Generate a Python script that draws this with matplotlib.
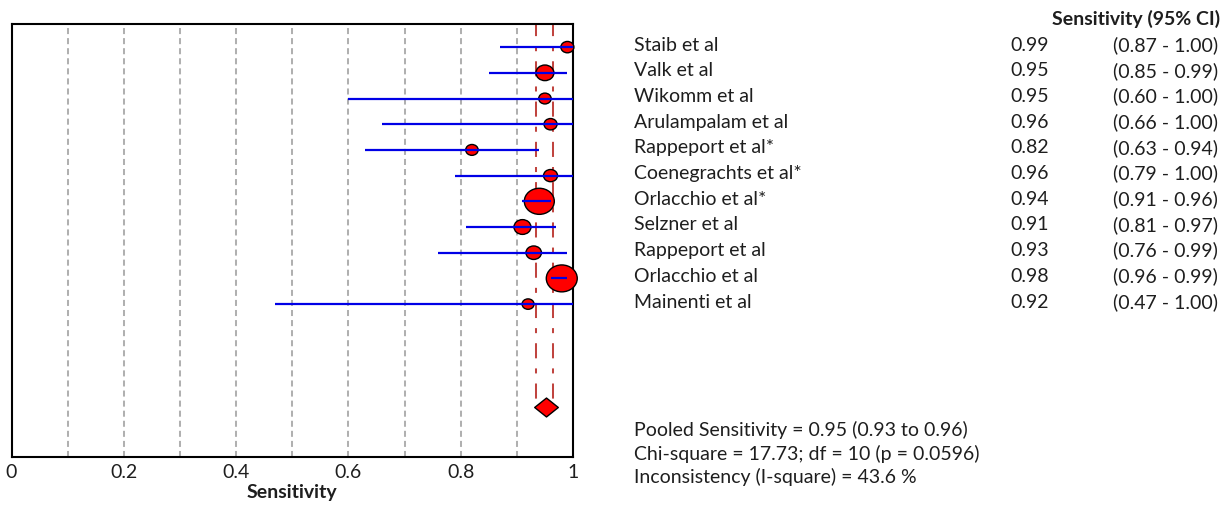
import numpy as np
import matplotlib.pyplot as plt
import matplotlib.transforms as mtransforms
from matplotlib.path import Path

plt.rcParams['font.family'] = ['Lato', 'DejaVu Sans']

# study data
studies = ["Staib et al", "Valk et al", "Wikomm et al", "Arulampalam et al",
           "Rappeport et al*", "Coenegrachts et al*", "Orlacchio et al*",
           "Selzner et al", "Rappeport et al", "Orlacchio et al", "Mainenti et al"]
sens = [0.99, 0.95, 0.95, 0.96, 0.82, 0.96, 0.94, 0.91, 0.93, 0.98, 0.92]
ci_low = [0.87, 0.85, 0.60, 0.66, 0.63, 0.79, 0.91, 0.81, 0.76, 0.96, 0.47]
ci_high = [1.00, 0.99, 1.00, 1.00, 0.94, 1.00, 0.96, 0.97, 0.99, 0.99, 1.00]
weights = [4.6, 8.7, 4.2, 4.6, 4.2, 5.3, 24.3, 7.8, 6.5, 25.9, 3.9]

pooled = 0.952
pooled_low = 0.934
pooled_high = 0.964
stats_lines = ["Pooled Sensitivity = 0.95 (0.93 to 0.96)",
               "Chi-square = 17.73; df = 10 (p = 0.0596)",
               "Inconsistency (I-square) = 43.6 %"]

FS = 14
TXT = '#1e1e1e'
W, H = 1228, 507
fig = plt.figure(figsize=(W / 100, H / 100), dpi=100)
ax = fig.add_axes([11.5 / W, 1 - 457 / H, 561.5 / W, 433 / H])

rows = np.arange(1, len(studies) + 1)
pooled_row = 15

# ellipse marker, a bit wider than tall
circ = Path.unit_circle()
ellipse = Path(circ.vertices * [1.15, 1.0], circ.codes)
diamond = Path([(0, 1), (1.25, 0), (0, -1), (-1.25, 0), (0, 1)],
               [Path.MOVETO, Path.LINETO, Path.LINETO, Path.LINETO, Path.CLOSEPOLY])

for g in np.arange(0.1, 1.0, 0.1):
    ax.axvline(g, color='#b0b0b0', lw=1.45, linestyle=(0, (3, 2)), zorder=1)

# pooled confidence limits
for v in (pooled_low, pooled_high):
    ax.vlines(v, 0, pooled_row - 0.2, color='#c0443f', lw=1.45,
              linestyle=(0, (7.5, 5, 2.5, 5)), zorder=2)

sizes = [19.2 * w for w in weights]
ax.scatter(sens, rows, s=sizes, marker=ellipse, facecolor='red',
           edgecolor='black', linewidth=1.0, zorder=3, clip_on=False)
ax.hlines(rows, ci_low, ci_high, color='#0000e6', lw=1.6, zorder=4)

ax.scatter([pooled], [pooled_row], s=290, marker=diamond, facecolor='red',
           edgecolor='black', linewidth=1.0, zorder=5)

ax.set_xlim(0, 1)
ax.set_ylim(16.95, 0.1)
ax.set_yticks([])
ax.set_xticks([0, 0.2, 0.4, 0.6, 0.8, 1.0])
ax.set_xticklabels(["0", "0.2", "0.4", "0.6", "0.8", "1"])
ax.tick_params(axis='x', length=0, pad=5, labelsize=FS, colors=TXT)
for sp in ax.spines.values():
    sp.set_linewidth(1.5)
ax.set_xlabel("Sensitivity", fontsize=FS, fontweight='bold', labelpad=2, color=TXT)

# study table on the right, rows tied to the plot rows
trans = mtransforms.blended_transform_factory(fig.transFigure, ax.transData)
for r, name, s, lo, hi in zip(rows, studies, sens, ci_low, ci_high):
    ax.text(634 / W, r - 0.08, name, transform=trans, va='center', ha='left',
            fontsize=FS, color=TXT, clip_on=False)
    ax.text(1010 / W, r - 0.08, f"{s:.2f}", transform=trans, va='center', ha='left',
            fontsize=FS, color=TXT, clip_on=False)
    ax.text(1218 / W, r - 0.08, f"({lo:.2f} - {hi:.2f})", transform=trans,
            va='center', ha='right', fontsize=FS, color=TXT, clip_on=False)

fig.text(1220 / W, 1 - 19 / H, "Sensitivity (95% CI)", ha='right', va='center',
         fontsize=FS, fontweight='bold', color=TXT)

for i, line in enumerate(stats_lines):
    fig.text(634 / W, 1 - (430 + 23.5 * i) / H, line, ha='left', va='center',
             fontsize=FS, color=TXT)

fig.savefig("out.png", dpi=100)
